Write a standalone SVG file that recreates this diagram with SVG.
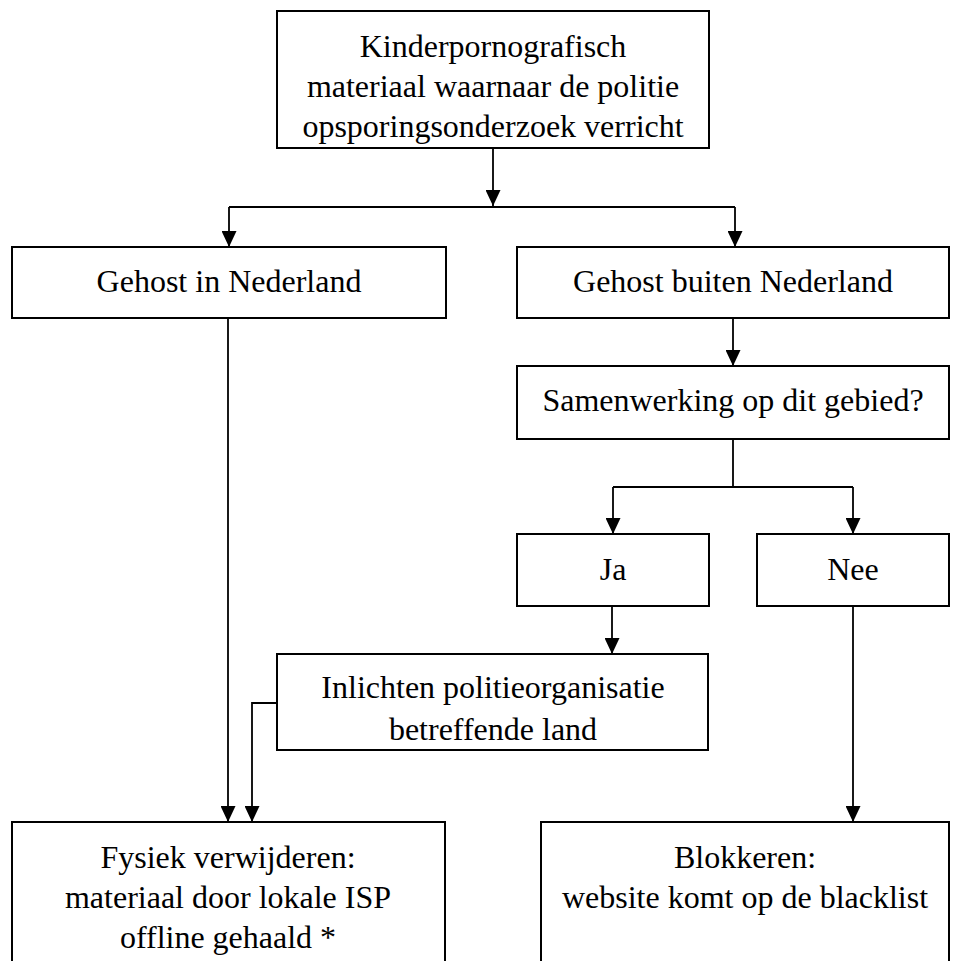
<svg xmlns="http://www.w3.org/2000/svg" width="960" height="961" viewBox="0 0 960 961">
<style>
.box{fill:#ffffff;stroke:#000000;stroke-width:2}
.t{font-family:'Liberation Serif','Times New Roman',Tinos,'DejaVu Serif',serif;font-size:32px;fill:#000000;text-anchor:middle}
.c{fill:none;stroke:#000000;stroke-width:1.8}
</style>
<defs>
<marker id="ah" markerUnits="userSpaceOnUse" markerWidth="16" markerHeight="15" refX="16" refY="7.5" orient="auto">
<path d="M0,0 L16,7.5 L0,15 Z" fill="#000000"/>
</marker>
</defs>
<rect width="960" height="961" fill="#ffffff"/>
<g id="connectors">
<path class="c" d="M493,148 V206" marker-end="url(#ah)"/>
<path class="c" d="M229,207 H735"/>
<path class="c" d="M229,207 V247" marker-end="url(#ah)"/>
<path class="c" d="M735,207 V247" marker-end="url(#ah)"/>
<path class="c" d="M733,318 V366" marker-end="url(#ah)"/>
<path class="c" d="M733,439 V487 M613,487 H853"/>
<path class="c" d="M613,487 V534" marker-end="url(#ah)"/>
<path class="c" d="M853,487 V534" marker-end="url(#ah)"/>
<path class="c" d="M612,606 V654" marker-end="url(#ah)"/>
<path class="c" d="M228,318 V822" marker-end="url(#ah)"/>
<path class="c" d="M277,703 H252 V822" marker-end="url(#ah)"/>
<path class="c" d="M853,606 V822" marker-end="url(#ah)"/>
</g>
<g id="node-start">
<rect class="box" x="277" y="11" width="432" height="137"/>
<text class="t" x="493" y="57">Kinderpornografisch</text>
<text class="t" x="493" y="97">materiaal waarnaar de politie</text>
<text class="t" x="493" y="137">opsporingsonderzoek verricht</text>
</g>
<g id="node-nl">
<rect class="box" x="12" y="247" width="434" height="71"/>
<text class="t" x="229" y="292">Gehost in Nederland</text>
</g>
<g id="node-buiten">
<rect class="box" x="517" y="247" width="432" height="71"/>
<text class="t" x="733" y="292">Gehost buiten Nederland</text>
</g>
<g id="node-samenwerking">
<rect class="box" x="517" y="366" width="432" height="73"/>
<text class="t" x="733" y="411">Samenwerking op dit gebied?</text>
</g>
<g id="node-ja">
<rect class="box" x="517" y="534" width="192" height="72"/>
<text class="t" x="613" y="580">Ja</text>
</g>
<g id="node-nee">
<rect class="box" x="757" y="534" width="192" height="72"/>
<text class="t" x="853" y="580">Nee</text>
</g>
<g id="node-inlichten">
<rect class="box" x="277" y="654" width="431" height="96"/>
<text class="t" x="493" y="698">Inlichten politieorganisatie</text>
<text class="t" x="493" y="740">betreffende land</text>
</g>
<g id="node-fysiek">
<rect class="box" x="12" y="822" width="433" height="160"/>
<text class="t" x="228" y="868">Fysiek verwijderen:</text>
<text class="t" x="228" y="908">materiaal door lokale ISP</text>
<text class="t" x="228" y="948">offline gehaald *</text>
</g>
<g id="node-blokkeren">
<rect class="box" x="541" y="822" width="408" height="160"/>
<text class="t" x="745" y="868">Blokkeren:</text>
<text class="t" x="745" y="908">website komt op de blacklist</text>
</g>
</svg>
